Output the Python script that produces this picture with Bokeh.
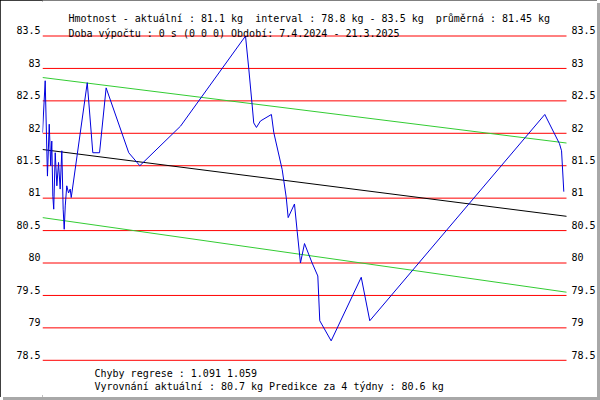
from bokeh.plotting import figure
from bokeh.models import Range1d, LinearAxis, FixedTicker, Label
from bokeh.core.properties import value
from bokeh.embed import file_html
from bokeh.resources import INLINE

# days since 7.4.2024
days = [0, 1.8, 3.3, 4.5, 5.5, 6.2, 6.9, 7.5, 8.5, 9.6, 10.7, 11.8, 12.9, 13.8,
        14.5, 15.2, 16.2, 17.4, 18.5, 19.2, 29.9, 33.6, 38.1, 42.5, 57.6, 65.0,
        92.2, 135.6, 137.8, 140.1, 141.1, 142.9, 145.6, 152.9, 154.5, 160.1,
        162.8, 164.1, 168.3, 170.1, 172.3, 175.0, 180.1, 183.9, 185.2, 192.8,
        212.9, 218.6, 335.5, 345.3, 346.7, 348.2]
weights = [82.01, 82.81, 81.34, 82.14, 81.50, 81.88, 81.03, 80.83, 81.70, 81.19,
           81.55, 81.14, 81.73, 80.83, 80.52, 80.88, 81.19, 81.08, 81.14, 81.01,
           82.78, 81.70, 81.70, 82.70, 81.70, 81.50, 82.11, 83.50, 82.99, 82.42,
           82.16, 82.09, 82.19, 82.29, 82.01, 81.44, 81.01, 80.70, 80.91, 80.49,
           80.00, 80.30, 80.00, 79.80, 79.11, 78.80, 79.78, 79.11, 82.29, 81.84,
           81.73, 81.10]

x_start, x_end = 0, 350
reg_x = [x_start, x_end]
reg_mid = [81.75, 80.72]
reg_hi = [82.86, 81.85]
reg_lo = [80.70, 79.55]

tick_values = [78.5, 79, 79.5, 80, 80.5, 81, 81.5, 82, 82.5, 83, 83.5]
tick_labels = ["78.5", "79", "79.5", "80", "80.5", "81", "81.5", "82", "82.5", "83", "83.5"]

header1 = "Hmotnost - aktuální : 81.1 kg  interval : 78.8 kg - 83.5 kg  průměrná : 81.45 kg"
header2 = "Doba výpočtu : 0 s (0 0 0) Období: 7.4.2024 - 21.3.2025"
footer1 = "Chyby regrese : 1.091 1.059"
footer2 = "Vyrovnání aktuální : 80.7 kg Predikce za 4 týdny : 80.6 kg"

FONT = "DejaVu Sans Mono"
FS = "10px"

W, H = 597, 397
LEFT = 42
px_day = 524 / 350.0
px_kg = 64.86
xr_end = x_end + (W - 566) / px_day
y_top = 83.5 + 35.5 / px_kg
y_bot = 83.5 - (H - 35.5) / px_kg
shift = 0.088

p = figure(width=W, height=H, output_backend="svg", toolbar_location=None,
           x_range=Range1d(x_start, xr_end), y_range=Range1d(y_bot, y_top),
           x_axis_location=None, y_axis_location=None,
           min_border_left=LEFT, min_border_right=0, min_border_top=0,
           min_border_bottom=0, background_fill_color="white",
           border_fill_color="white", outline_line_color=None)
p.extra_y_ranges = {"lab": Range1d(y_bot - shift, y_top - shift)}
p.grid.visible = False

# horizontal reference lines
n = len(tick_values)
p.segment(x0=[x_start] * n, y0=tick_values, x1=[x_end] * n, y1=tick_values,
          line_color="#ff0000", line_width=1)

ax = LinearAxis(y_range_name="lab", ticker=FixedTicker(ticks=tick_values),
                major_label_overrides=dict(zip(tick_values, tick_labels)),
                axis_line_color=None, major_tick_line_color=None,
                minor_tick_line_color=None, major_tick_in=0, major_tick_out=0,
                major_label_standoff=2, major_label_text_align="right",
                major_label_text_font=FONT, major_label_text_font_size=FS,
                major_label_text_color="black")
p.add_layout(ax, "left")

# right-hand tick labels
p.text(x=[x_end] * n, y=tick_values, text=tick_labels, y_range_name="lab",
       x_offset=5, text_baseline="middle", text_align="left",
       text_font=value(FONT), text_font_size=value(FS), text_color="black")

p.line(reg_x, reg_hi, line_color="#33cc33", line_width=1)
p.line(reg_x, reg_lo, line_color="#33cc33", line_width=1)
p.line(reg_x, reg_mid, line_color="black", line_width=1)
p.line(days, weights, line_color="#0000dd", line_width=1)

for txt, x, y in ((header1, 26, 379.5), (header2, 26, 364),
                  (footer1, 52, 24), (footer2, 52, 11)):
    p.add_layout(Label(x=x, y=y, x_units="screen", y_units="screen",
                       text=txt.replace("  ", "\u00a0 "),
                       text_font=FONT, text_font_size=FS, text_color="black",
                       text_baseline="alphabetic", text_align="left"))

p.styles = {"outline": "2px solid black", "outline-offset": "-2px",
            "box-shadow": "3px 3px 0 #a8a8a8"}

open("out.html", "w").write(file_html(p, INLINE))
